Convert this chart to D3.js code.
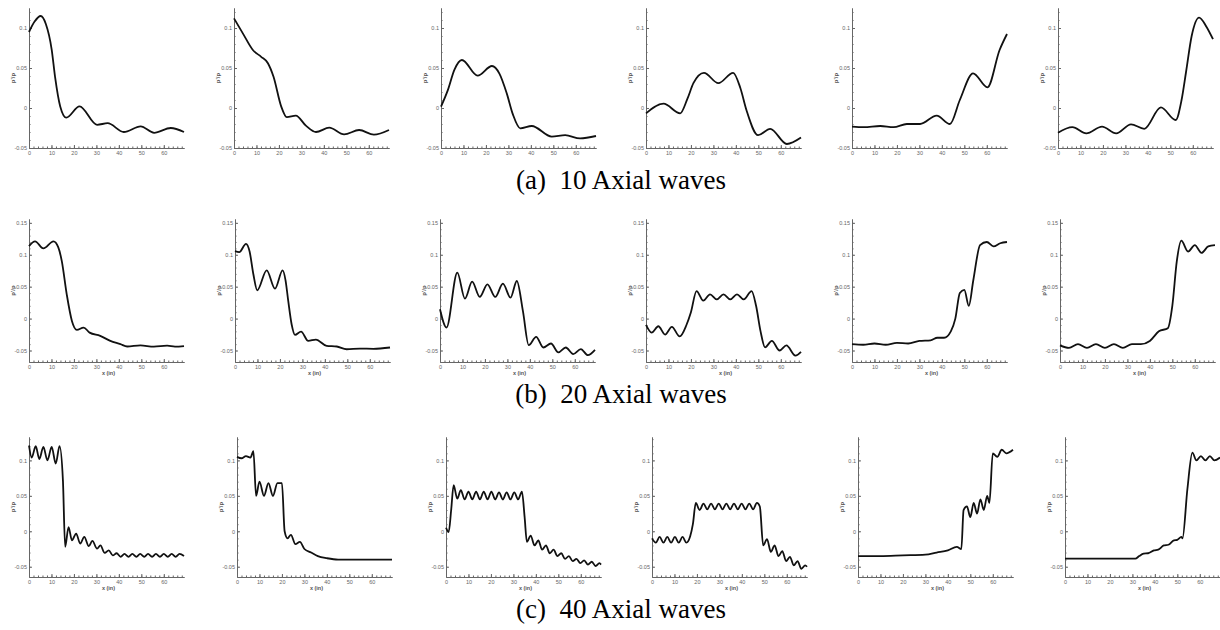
<!DOCTYPE html>
<html>
<head>
<meta charset="utf-8">
<script src="https://cdn.jsdelivr.net/npm/d3@7"></script>
<style>
  body { margin: 0; background: #fff; }
  svg { display: block; }
</style>
</head>
<body>
<svg id="chart" width="1220" height="630"></svg>
<script>
// x (in) samples + p'/p values, one array per panel
const xTicks = [0, 10, 20, 30, 40, 50, 60]
const captions = ["(a)  10 Axial waves", "(b)  20 Axial waves", "(c)  40 Axial waves"]
const yTicksA = [-0.05, 0, 0.05, 0.1]
const yTicksB = [-0.05, 0, 0.05, 0.1, 0.15]
const yTicksC = [-0.05, 0, 0.05, 0.1]

// (a) 10 axial waves
const a1 = [[0,0.095],[2.5,0.108],[5.2,0.115],[7.5,0.105],[10.1,0.073],[11.6,0.039],[13.9,0.002],[16.6,-0.012],[22.5,0.002],[30.3,-0.021],[35,-0.019],[42.2,-0.030],[49.7,-0.023],[55.7,-0.031],[63.1,-0.025],[69,-0.030]]
const a2 = [[0,0.112],[4,0.093],[8.4,0.0725],[12.1,0.064],[15.1,0.056],[17.6,0.039],[21,0.002],[23.5,-0.0115],[27.5,-0.0095],[32,-0.022],[36.5,-0.030],[42.4,-0.0246],[49,-0.033],[55.7,-0.0275],[62.3,-0.0333],[69,-0.0275]]
const a3 = [[0,0.0017],[3,0.022],[6,0.048],[9.3,0.06],[16.3,0.0404],[22.7,0.0525],[26,0.043],[29.3,0.018],[32,-0.008],[35.3,-0.0254],[40.4,-0.0225],[49.3,-0.0358],[55.3,-0.034],[61.9,-0.038],[69,-0.035]]
const a4 = [[0,-0.0067],[7.8,0.0054],[15.2,-0.0067],[18.5,0.012],[21.1,0.031],[25.8,0.044],[32.2,0.031],[38.8,0.044],[42,0.025],[44.7,-0.0025],[49.9,-0.034],[55.3,-0.026],[62.7,-0.045],[69,-0.037]]
const a5 = [[0,-0.0233],[5.2,-0.024],[12.6,-0.0225],[18.5,-0.024],[24.4,-0.02],[30.3,-0.02],[37.7,-0.0096],[43.6,-0.02],[48,0.01],[53.9,0.0433],[60.3,0.0258],[65.7,0.0725],[69,0.0925]]
const a6 = [[0,-0.031],[6.4,-0.024],[12.6,-0.0317],[19.6,-0.0233],[25.9,-0.0317],[32.5,-0.0204],[38.4,-0.026],[45.8,0.0008],[52.4,-0.015],[55,0.01],[57,0.045],[59.5,0.09],[62.8,0.113],[66,0.102],[69,0.086]]

// (b) 20 axial waves
const b1 = [[0,0.1135],[2.7,0.121],[6.4,0.11],[10.9,0.121],[13,0.112],[14.6,0.09],[16.8,0.038],[19.1,-0.0036],[21.3,-0.0177],[24.3,-0.014],[27,-0.022],[31.7,-0.027],[36.2,-0.035],[40.7,-0.040],[43.7,-0.0437],[49.6,-0.042],[55.6,-0.044],[61.5,-0.0425],[65,-0.044],[69,-0.043]]
const b2 = [[0,0.1057],[1.9,0.104],[4.9,0.117],[6.5,0.105],[8.2,0.069],[9.9,0.0443],[14.1,0.0755],[17.8,0.0469],[21.2,0.0755],[22.5,0.06],[23.7,0.0276],[25.2,-0.0089],[26.7,-0.0255],[29.4,-0.0203],[32.6,-0.035],[36,-0.0328],[40.8,-0.0427],[45.3,-0.0437],[49.7,-0.048],[55.6,-0.047],[61.6,-0.0474],[69,-0.0453]]
const b3 = [[0,0.0146],[2.9,-0.014],[7.7,0.0719],[11.1,0.0313],[14.3,0.0578],[17.7,0.0339],[21.1,0.0536],[24.6,0.0339],[28,0.0547],[31.4,0.0328],[34.2,0.0589],[36.9,0.012],[39.5,-0.0417],[42.8,-0.0286],[46,-0.0453],[49.4,-0.039],[52.7,-0.053],[56,-0.0453],[59.3,-0.0557],[62.7,-0.0479],[65.8,-0.0573],[69,-0.049]]
const b4 = [[0,-0.01],[2.5,-0.022],[5.5,-0.012],[8.5,-0.025],[11.5,-0.013],[15,-0.028],[18,-0.01],[20,0.01],[22.5,0.043],[25.5,0.028],[28.5,0.038],[31.5,0.03],[34.5,0.038],[37.5,0.03],[40.5,0.038],[43.5,0.03],[47,0.043],[49,0.02],[51,-0.02],[53,-0.045],[56,-0.035],[59.5,-0.05],[62.5,-0.042],[66.5,-0.058],[69,-0.052]]
const b5 = [[0,-0.04],[5,-0.041],[10,-0.039],[15,-0.041],[20,-0.038],[25,-0.039],[30,-0.035],[35,-0.034],[38,-0.03],[41,-0.03],[44,-0.02],[46,0.0],[48,0.04],[50,0.045],[52,0.02],[54,0.06],[57,0.115],[60,0.12],[63,0.113],[66,0.118],[69,0.12]]
const b6 = [[0,-0.042],[4,-0.046],[8,-0.04],[12,-0.046],[16,-0.04],[20,-0.046],[24,-0.04],[28,-0.046],[32,-0.04],[36,-0.04],[40,-0.035],[44,-0.02],[48,-0.015],[50,0.02],[52,0.09],[54,0.122],[57,0.105],[60,0.115],[63,0.103],[66,0.113],[69,0.115]]

// (c) 40 axial waves
const c1 = [[0,0.121],[1.2,0.104],[3,0.12],[4.6,0.102],[6.4,0.119],[8.2,0.1],[10.1,0.119],[11.9,0.0955],[13.6,0.12],[15.1,0.072],[16.1,-0.022],[17.6,0.006],[19.1,-0.0127],[21,-0.0033],[22.8,-0.0174],[24.6,-0.008],[26.6,-0.021],[28.2,-0.0136],[30.3,-0.0245],[31.8,-0.02],[33.7,-0.0306],[35.5,-0.027],[37.3,-0.034],[39,-0.031],[40.8,-0.036],[42.5,-0.032],[44.3,-0.036],[46,-0.032],[47.8,-0.036],[49.5,-0.032],[51.3,-0.036],[53,-0.032],[54.8,-0.036],[56.5,-0.032],[58.3,-0.036],[60,-0.032],[61.8,-0.036],[63.5,-0.032],[65.3,-0.036],[67,-0.032],[69,-0.035]]
const c2 = [[0,0.105],[2,0.103],[4,0.106],[6,0.104],[7.3,0.113],[8.5,0.05],[10,0.07],[12,0.05],[14,0.068],[16,0.05],[18,0.068],[20,0.068],[21.2,0.0],[22.5,-0.01],[24,-0.005],[26,-0.018],[28,-0.015],[30,-0.025],[33,-0.03],[36,-0.035],[40,-0.038],[45,-0.04],[69,-0.04]]
const c3 = [[0,0.005],[1.2,-0.001],[2.3,0.03],[3.4,0.065],[5,0.046],[6.6,0.058],[8.3,0.045],[10,0.056],[11.7,0.045],[13.4,0.056],[15.1,0.045],[16.8,0.056],[18.5,0.045],[20.2,0.056],[21.9,0.045],[23.6,0.055],[25.3,0.045],[27,0.055],[28.7,0.045],[30.4,0.055],[32.1,0.045],[33.8,0.056],[35,0.02],[36,-0.015],[37.7,-0.006],[39.4,-0.02],[41.1,-0.013],[42.8,-0.026],[44.5,-0.02],[46.2,-0.031],[47.9,-0.026],[49.6,-0.035],[51.3,-0.031],[53,-0.039],[54.7,-0.035],[56.4,-0.042],[58.1,-0.039],[59.8,-0.045],[61.5,-0.041],[63.2,-0.047],[64.9,-0.043],[66.6,-0.049],[68.3,-0.045],[69,-0.047]]
const c4 = [[0,-0.01],[1.7,-0.016],[3.4,-0.008],[5.1,-0.016],[6.8,-0.008],[8.5,-0.016],[10.2,-0.008],[11.9,-0.016],[13.6,-0.008],[15.3,-0.016],[17,-0.007],[18.2,0.01],[19.5,0.04],[21.2,0.03],[22.9,0.039],[24.6,0.031],[26.3,0.039],[28,0.031],[29.7,0.039],[31.4,0.031],[33.1,0.039],[34.8,0.031],[36.5,0.039],[38.2,0.031],[39.9,0.039],[41.6,0.031],[43.3,0.039],[45,0.031],[46.7,0.04],[48,0.035],[49.5,-0.02],[51.2,-0.011],[52.9,-0.029],[54.6,-0.02],[56.3,-0.035],[58,-0.028],[59.7,-0.042],[61.4,-0.036],[63.1,-0.048],[64.8,-0.042],[66.5,-0.053],[68.2,-0.048],[69,-0.05]]
const c5 = [[0,-0.035],[10,-0.035],[20,-0.034],[30,-0.033],[35,-0.03],[40,-0.027],[44,-0.022],[46,-0.025],[47,0.03],[48.5,0.035],[50,0.02],[51.5,0.04],[53,0.025],[54.5,0.045],[56,0.03],[57.5,0.05],[58.5,0.04],[60,0.11],[62,0.105],[64,0.115],[66,0.11],[69,0.115]]
const c6 = [[0,-0.0387],[31.3,-0.0387],[33,-0.035],[35,-0.0316],[37,-0.031],[39.6,-0.027],[41.5,-0.026],[44,-0.02],[46,-0.019],[48.5,-0.0127],[50,-0.012],[51.8,-0.008],[52.3,-0.01],[54.5,0.06],[56.7,0.111],[58.5,0.1],[60.5,0.106],[62.5,0.1],[64.5,0.106],[66.5,0.1],[69,0.104]]

const rows = [
  {series: [a1, a2, a3, a4, a5, a6], yDomain: [-0.05, 0.125], yTicks: yTicksA, top: 8, bottom: 148,
   lefts: [29, 234, 441, 646, 852, 1058], xLabel: false},
  {series: [b1, b2, b3, b4, b5, b6], yDomain: [-0.068, 0.156], yTicks: yTicksB, top: 219, bottom: 362,
   lefts: [29, 235, 440, 646, 852, 1060], xLabel: true},
  {series: [c1, c2, c3, c4, c5, c6], yDomain: [-0.0645, 0.133], yTicks: yTicksC, top: 437, bottom: 577,
   lefts: [29, 237, 446, 652, 858, 1065], xLabel: true}
]
const plotW = 155
const xDomain = [0, 69]

const svg = d3.select('#chart')

function drawPanel(g, row, left, data) {
    const x = d3.scaleLinear().domain(xDomain).range([left, left + plotW])
    const y = d3.scaleLinear().domain(row.yDomain).range([row.bottom, row.top])

    // minor ticks
    g.append('g')
        .attr('transform', `translate(0,${row.bottom})`)
        .call(d3.axisBottom(x).tickValues(d3.range(0, 69, 2)).tickSizeInner(-1.5).tickSizeOuter(0).tickFormat(''))
    g.append('g')
        .attr('transform', `translate(${left},0)`)
        .call(d3.axisLeft(y).tickValues(d3.range(-50, 160, 10).map(d => d / 1000).filter(d => d >= row.yDomain[0] && d <= row.yDomain[1]))
            .tickSizeInner(-1.5).tickSizeOuter(0).tickFormat(''))

    // major ticks
    g.append('g')
        .attr('transform', `translate(0,${row.bottom})`)
        .call(d3.axisBottom(x).tickValues(xTicks).tickSizeInner(-3).tickSizeOuter(0).tickPadding(3))
    g.append('g')
        .attr('transform', `translate(${left},0)`)
        .call(d3.axisLeft(y).tickValues(row.yTicks).tickSizeInner(-3).tickSizeOuter(0).tickPadding(2).tickFormat(d => String(d)))

    g.selectAll('.domain, .tick line').attr('stroke', '#666').attr('stroke-width', 1)
    g.selectAll('.tick text').attr('fill', '#666').attr('font-size', 5.5).attr('font-family', 'Arial, Liberation Sans, sans-serif')

    g.append('text')
        .attr('transform', `translate(${left - 14},${(row.top + row.bottom) / 2}) rotate(-90)`)
        .attr('text-anchor', 'middle')
        .attr('font-family', 'Arial, Liberation Sans, sans-serif')
        .attr('font-size', 6)
        .attr('font-weight', 'bold')
        .attr('fill', '#555')
        .text("p'/p")

    if (row.xLabel) {
        g.append('text')
            .attr('x', left + plotW / 2 + 2)
            .attr('y', row.bottom + 12.5)
            .attr('text-anchor', 'middle')
            .attr('font-family', 'Arial, Liberation Sans, sans-serif')
            .attr('font-size', 5.5)
            .attr('font-weight', 'bold')
            .attr('fill', '#555')
            .text('x (in)')
    }

    const line = d3.line()
        .x(d => x(d[0]))
        .y(d => y(d[1]))
        .curve(d3.curveMonotoneX)

    g.append('path')
        .datum(data)
        .attr('fill', 'none')
        .attr('stroke', '#111')
        .attr('stroke-width', 1.8)
        .attr('stroke-linejoin', 'round')
        .attr('d', line)
}

rows.forEach((row, ri) => {
    const rg = svg.append('g').attr('class', 'row' + ri)
    row.series.forEach((s, i) => drawPanel(rg.append('g'), row, row.lefts[i], s))
    rg.append('text')
        .attr('x', 621)
        .attr('y', row.bottom + 41)
        .attr('text-anchor', 'middle')
        .attr('font-family', 'Liberation Serif, Times New Roman, serif')
        .attr('font-size', 27)
        .attr('fill', '#000')
        .style('white-space', 'pre')
        .text(captions[ri])
})
</script>
</body>
</html>
